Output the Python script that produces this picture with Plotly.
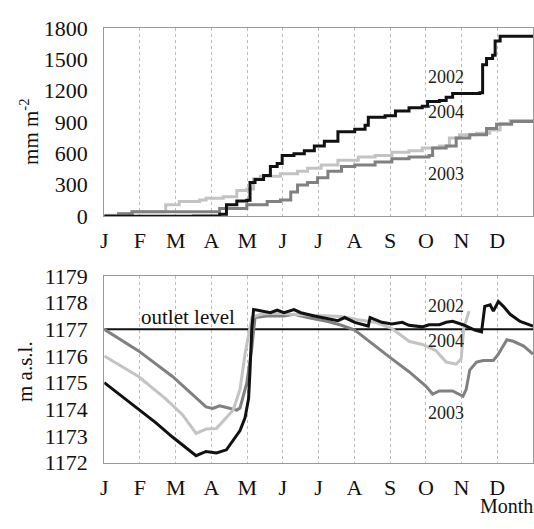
import plotly.graph_objects as go

# ---------------- data (x in months since 1 Jan) ----------------
month_ticks = [0, 1, 2, 3, 4, 5, 6, 7, 8, 9, 10, 11]
month_labels = ["J", "F", "M", "A", "M", "J", "J", "A", "S", "O", "N", "D"]

# cumulative precipitation (mm m-2)
cum02_x = [0, 2.5, 3.23, 3.42, 3.71, 3.99, 4.08, 4.22, 4.46, 4.65, 4.84, 4.98, 5.31, 5.60,
           5.88, 6.16, 6.54, 7.01, 7.30, 7.39, 7.86, 8.15, 8.53, 8.90, 9.05, 9.38, 9.57,
           9.75, 10.51, 10.59, 10.70, 10.87, 10.94, 11.08, 12.0]
cum02_y = [-3, 0, 15, 107, 143, 150, 320, 350, 387, 473, 503, 580, 595, 625,
           671, 717, 808, 830, 870, 946, 960, 1006, 1037, 1052, 1098, 1107, 1138,
           1174, 1180, 1449, 1510, 1540, 1678, 1723, 1738]

cum03_x = [0, 0.4, 0.78, 3.02, 3.23, 3.99, 4.56, 4.93, 5.22, 5.41, 5.69, 5.97, 6.26, 6.64,
           7.01, 7.58, 8.05, 8.53, 9.09, 9.19, 9.57, 9.85, 10.23, 10.70, 10.98, 11.4, 12.0]
cum03_y = [0, 20, 40, 40, 70, 107, 137, 152, 229, 296, 320, 366, 427, 473,
           488, 518, 549, 564, 580, 650, 671, 747, 778, 839, 880, 905, 920]

cum04_x = [0, 0.4, 0.78, 1.72, 2.10, 2.67, 2.85, 3.33, 3.71, 3.99, 4.18, 4.37, 4.93, 5.41,
           5.69, 6.07, 6.54, 7.11, 7.58, 8.05, 8.53, 8.90, 9.38, 9.66, 9.94, 10.42, 10.79,
           11.08, 11.36, 12.0]
cum04_y = [5, 20, 40, 107, 137, 152, 168, 183, 244, 259, 357, 381, 405, 427,
           457, 488, 534, 564, 580, 610, 625, 650, 671, 747, 778, 793, 823,
           885, 915, 924]

# lake level (m a.s.l.)
lev02_x = [0, 0.96, 1.44, 1.91, 2.29, 2.57, 2.85, 3.14, 3.42, 3.61, 3.80, 3.94, 4.04, 4.08,
           4.13, 4.18, 4.37, 4.65, 4.84, 5.03, 5.31, 5.50, 5.88, 6.26, 6.54, 6.73, 7.01,
           7.39, 7.44, 7.77, 8.05, 8.34, 8.53, 8.90, 9.09, 9.38, 9.57, 9.75, 10.04, 10.37,
           10.56, 10.65, 10.80, 10.89, 11.03, 11.17, 11.36, 11.64, 12.0]
lev02_y = [1175.0, 1174.0, 1173.5, 1172.96, 1172.54, 1172.26, 1172.42, 1172.36, 1172.48,
           1172.84, 1173.2, 1173.68, 1174.4, 1175.47, 1177.03, 1177.74, 1177.68, 1177.62,
           1177.72, 1177.62, 1177.74, 1177.62, 1177.5, 1177.4, 1177.32, 1177.44, 1177.26,
           1177.12, 1177.44, 1177.26, 1177.2, 1177.26, 1177.15, 1177.09, 1177.17, 1177.17,
           1177.26, 1177.3, 1177.17, 1176.97, 1176.9, 1177.86, 1177.92, 1177.68, 1178.04,
           1177.86, 1177.56, 1177.29, 1177.12]

lev03_x = [0, 0.96, 1.91, 2.85, 3.04, 3.23, 3.42, 3.71, 3.80, 3.99, 4.13, 4.22, 4.56, 5.03,
           5.31, 5.69, 6.26, 6.64, 7.01, 7.58, 8.05, 8.53, 9.00, 9.19, 9.38, 9.75, 10.04,
           10.13, 10.23, 10.42, 10.61, 10.89, 11.03, 11.27, 11.45, 11.74, 12.0]
lev03_y = [1177.0, 1176.19, 1175.23, 1174.09, 1174.03, 1174.13, 1174.07, 1173.97, 1174.05,
           1174.99, 1176.3, 1177.44, 1177.5, 1177.5, 1177.56, 1177.44, 1177.29, 1177.15,
           1176.97, 1176.37, 1175.89, 1175.41, 1174.87, 1174.57, 1174.69, 1174.69, 1174.49,
           1174.75, 1175.47, 1175.77, 1175.83, 1175.83, 1176.07, 1176.61, 1176.55, 1176.37,
           1176.07]

lev04_x = [0, 0.96, 1.72, 2.19, 2.57, 2.85, 3.14, 3.33, 3.61, 3.80, 3.94, 4.13, 4.37, 4.74,
           5.22, 5.69, 6.26, 6.64, 7.11, 7.58, 8.05, 8.53, 8.90, 9.28, 9.57, 9.85, 9.99,
           10.06, 10.21]
lev04_y = [1176.0, 1175.23, 1174.39, 1173.8, 1173.1, 1173.26, 1173.28, 1173.56, 1173.97,
           1174.75, 1176.07, 1177.44, 1177.56, 1177.62, 1177.56, 1177.53, 1177.5, 1177.48,
           1177.36, 1177.26, 1177.03, 1176.55, 1176.43, 1176.2, 1175.77, 1175.69, 1175.89,
           1177.03, 1177.68]

outlet_level = 1177.0

C02, C03, C04 = "#111111", "#808080", "#c3c3c3"
FONT = "Liberation Serif"

fig = go.Figure()

for xs, ys, c in [(cum04_x, cum04_y, C04), (cum03_x, cum03_y, C03), (cum02_x, cum02_y, C02)]:
    fig.add_trace(go.Scatter(x=xs, y=ys, mode="lines", line=dict(color=c, width=3, shape="hv"),
                             xaxis="x", yaxis="y", showlegend=False))

fig.add_trace(go.Scatter(x=[0, 12], y=[outlet_level, outlet_level], mode="lines",
                         line=dict(color="#111111", width=2), xaxis="x2", yaxis="y2",
                         showlegend=False))
for xs, ys, c in [(lev03_x, lev03_y, C03), (lev04_x, lev04_y, C04), (lev02_x, lev02_y, C02)]:
    fig.add_trace(go.Scatter(x=xs, y=ys, mode="lines", line=dict(color=c, width=3),
                             xaxis="x2", yaxis="y2", showlegend=False))

xdom = [101 / 534, 533 / 534]
xax = dict(range=[0, 12], tickmode="array", tickvals=month_ticks, ticktext=month_labels,
           showgrid=True, gridcolor="#bbbbbb", griddash="dot", gridwidth=1,
           showline=True, linecolor="#999999", linewidth=1, mirror=True,
           ticks="", zeroline=False, ticklabelstandoff=5,
           tickfont=dict(family=FONT, size=22, color="#111111"))
yax = dict(showgrid=False, showline=True, linecolor="#999999", linewidth=1, mirror=True,
           ticks="", zeroline=False, ticklabelstandoff=11,
           tickfont=dict(family=FONT, size=22, color="#111111"))

fig.update_layout(
    width=534, height=529, margin=dict(l=0, r=0, t=0, b=0),
    paper_bgcolor="white", plot_bgcolor="white",
    font=dict(family=FONT),
    xaxis=dict(xax, domain=xdom, anchor="y"),
    yaxis=dict(yax, domain=[315 / 529, 512 / 529], range=[0, 1800],
               tickvals=[0, 300, 600, 900, 1200, 1500, 1800], anchor="x"),
    xaxis2=dict(xax, domain=xdom, anchor="y2"),
    yaxis2=dict(yax, domain=[56 / 529, 252 / 529], range=[1172, 1179],
                tickvals=[1172, 1173, 1174, 1175, 1176, 1177, 1178, 1179], anchor="x2"),
)

ann = []
def lab(text, x, y, xref, yref, size=18, color="#222222", xanchor="center",
        yanchor="middle", **kw):
    ann.append(dict(text=text, x=x, y=y, xref=xref, yref=yref, showarrow=False,
                    xanchor=xanchor, yanchor=yanchor,
                    font=dict(family=FONT, size=size, color=color), **kw))

lab("2002", 9.57, 1336, "x", "y")
lab("2004", 9.57, 997, "x", "y")
lab("2003", 9.57, 397, "x", "y")
lab("2002", 9.57, 1177.86, "x2", "y2")
lab("2004", 9.57, 1176.55, "x2", "y2")
lab("2003", 9.57, 1173.85, "x2", "y2")
lab("outlet level", 2.35, 1177.47, "x2", "y2", size=21, color="#111111")
lab("Month", 1.0, 0.0, "paper", "paper", size=20, color="#111111",
    xanchor="right", yanchor="bottom", borderpad=0, yshift=-2)
lab("mm m<sup>-2</sup>", 25 / 534, (529 - 125) / 529, "paper", "paper", size=21,
    color="#111111", textangle=-90)
lab("m a.s.l.", 21 / 534, (529 - 377) / 529, "paper", "paper", size=21,
    color="#111111", textangle=-90)
fig.update_layout(annotations=ann)

fig.write_html("out.html")
